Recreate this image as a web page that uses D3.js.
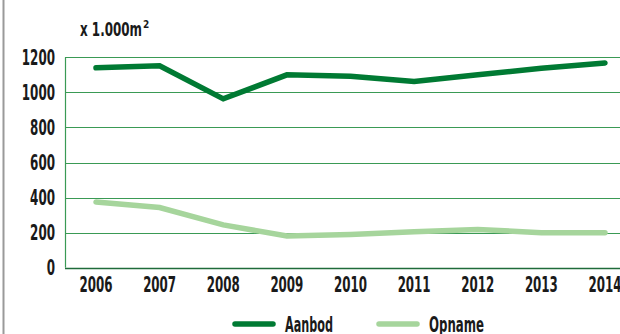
<!DOCTYPE html>
<html>
<head>
<meta charset="utf-8">
<script src="https://cdn.jsdelivr.net/npm/d3@7"></script>
<style>
  html, body { margin: 0; padding: 0; background: #fff; overflow: hidden; }
  svg { display: block; }
  text { font-family: "Liberation Sans Narrow", "DejaVu Sans Condensed", sans-serif; font-weight: bold; fill: #1a1a1a; }
</style>
</head>
<body>
<svg id="chart" width="620" height="334"></svg>
<script>
// Office space supply (Aanbod) and take-up (Opname), x 1.000 m²
const years = [2006, 2007, 2008, 2009, 2010, 2011, 2012, 2013, 2014];
const aanbod = [1140, 1152, 963, 1100, 1092, 1062, 1100, 1138, 1168];
const opname = [375, 343, 244, 181, 190, 205, 218, 200, 199];
const yTicks = [0, 200, 400, 600, 800, 1000, 1200];
const seriesNames = ["Aanbod", "Opname"];
const seriesColors = ["#007a33", "#a6d59c"];

const svg = d3.select("#chart");
const plot = { left: 65, right: 640, top: 57.3, bottom: 267.7 };

const x = d3.scalePoint().domain(years).range([96, 605]);
const y = d3.scaleLinear().domain([0, 1200]).range([plot.bottom, plot.top]);

// Frame edge on the left
svg.append("line")
  .attr("x1", 3.5).attr("x2", 3.5).attr("y1", 0).attr("y2", 334)
  .attr("stroke", "#9a9a9a").attr("stroke-width", 2);

// Horizontal gridlines
svg.append("g").selectAll("line").data(yTicks).join("line")
  .attr("x1", plot.left).attr("x2", plot.right)
  .attr("y1", d => Math.round(y(d)) + 0.5).attr("y2", d => Math.round(y(d)) + 0.5)
  .attr("stroke", d => d === 0 ? "#1f6b3a" : "#3a9a55")
  .attr("stroke-width", d => d === 0 ? 1.6 : 1);

// Left axis line
svg.append("line")
  .attr("x1", plot.left + 0.5).attr("x2", plot.left + 0.5)
  .attr("y1", y(1200)).attr("y2", y(0))
  .attr("stroke", "#3a9a55").attr("stroke-width", 1.2);

// Y tick labels
svg.append("g").selectAll("text").data(yTicks).join("text")
  .attr("x", 55).attr("y", d => y(d) + 7.5)
  .attr("text-anchor", "end")
  .attr("font-size", 21)
  .attr("textLength", d => String(d).length * 8.3)
  .attr("lengthAdjust", "spacingAndGlyphs")
  .text(d => d);

// X tick labels
svg.append("g").selectAll("text").data(years).join("text")
  .attr("x", d => x(d) - 16.5).attr("y", 292)
  .attr("font-size", 21)
  .attr("textLength", 33)
  .attr("lengthAdjust", "spacingAndGlyphs")
  .text(d => d);

// Unit label with superscript
svg.append("text")
  .attr("x", 80).attr("y", 36)
  .attr("font-size", 20)
  .attr("textLength", 62)
  .attr("lengthAdjust", "spacingAndGlyphs")
  .text("x 1.000m");
svg.append("text")
  .attr("x", 143).attr("y", 28)
  .attr("font-size", 10)
  .text("2");

// Series lines
const line = d3.line().x((d, i) => x(years[i])).y(d => y(d));
[aanbod, opname].forEach((vals, i) => {
  svg.append("path")
    .datum(vals)
    .attr("d", line)
    .attr("fill", "none")
    .attr("stroke", seriesColors[i])
    .attr("stroke-width", 5.5)
    .attr("stroke-linecap", "round")
    .attr("stroke-linejoin", "miter");
});

// Legend
const legendX = [233, 377];
const legend = svg.append("g").selectAll("g").data(seriesNames).join("g")
  .attr("transform", (d, i) => `translate(${legendX[i]},324)`);
legend.append("line")
  .attr("x1", 2).attr("x2", 40).attr("y1", 0).attr("y2", 0)
  .attr("stroke", (d, i) => seriesColors[i])
  .attr("stroke-width", 5.5)
  .attr("stroke-linecap", "round");
legend.append("text")
  .attr("x", 52).attr("y", 8)
  .attr("font-size", 21)
  .attr("textLength", d => d === "Aanbod" ? 48 : 55)
  .attr("lengthAdjust", "spacingAndGlyphs")
  .text(d => d);
</script>
</body>
</html>
